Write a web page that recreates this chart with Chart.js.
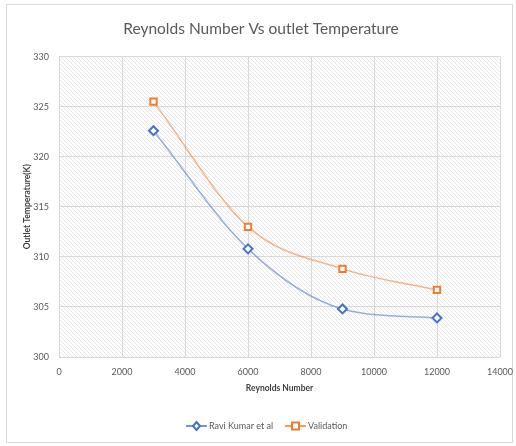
<!DOCTYPE html>
<html>
<head>
<meta charset="utf-8">
<script src="https://cdn.jsdelivr.net/npm/chart.js@4.4.0/dist/chart.umd.min.js"></script>
<style>
  html, body { margin: 0; padding: 0; background: #fff; }
  #wrap { width: 516px; height: 446px; position: relative; }
</style>
</head>
<body>
<div id="wrap"><canvas id="grafico"></canvas></div>
<script>
var reynolds = [3000, 6000, 9000, 12000];
var raviKumar = [322.6, 310.8, 304.8, 303.9];
var validacion = [325.5, 313.0, 308.8, 306.7];
var seriesNames = ["Ravi Kumar et al", "Validation"];

var azul = "#4472C4";
var naranja = "#ED7D31";
var gris = "#595959";
var fuente = "Lato, 'Open Sans', sans-serif";

// Patron rayado del area de trazado
function crearRayado() {
    var c = document.createElement("canvas");
    c.width = 4; c.height = 4;
    var g = c.getContext("2d");
    g.fillStyle = "#ffffff";
    g.fillRect(0, 0, 4, 4);
    g.strokeStyle = "#e6e6e6";
    g.lineWidth = 1;
    g.beginPath();
    g.moveTo(0, 0); g.lineTo(4, 4);
    g.moveTo(-1, 3); g.lineTo(1, 5);
    g.moveTo(3, -1); g.lineTo(5, 1);
    g.stroke();
    return c;
}

var fondoPlugin = {
    id: "fondo",
    beforeDraw: function (chart) {
        var ctx = chart.ctx;
        var a = chart.chartArea;
        ctx.save();
        ctx.fillStyle = "#fff";
        ctx.fillRect(0, 0, chart.width, chart.height);
        ctx.strokeStyle = "#d9d9d9";
        ctx.lineWidth = 1;
        ctx.strokeRect(6.5, 4.5, 506, 438);
        ctx.fillStyle = ctx.createPattern(crearRayado(), "repeat");
        ctx.fillRect(a.left, a.top, a.right - a.left, a.bottom - a.top);
        ctx.restore();
    },
    afterDraw: function (chart) {
        // Leyenda estilo Excel: linea + marcador
        var ctx = chart.ctx;
        var y = 426;
        var items = [
            { x: 186, color: azul, estilo: "diamond", texto: seriesNames[0] },
            { x: 285, color: naranja, estilo: "square", texto: seriesNames[1] }
        ];
        ctx.save();
        items.forEach(function (it) {
            ctx.strokeStyle = it.color;
            ctx.lineWidth = 1.5;
            ctx.beginPath();
            ctx.moveTo(it.x, y); ctx.lineTo(it.x + 21, y);
            ctx.stroke();
            ctx.fillStyle = "#fff";
            ctx.lineWidth = 2;
            ctx.beginPath();
            var cx = it.x + 10.5;
            if (it.estilo === "diamond") {
                ctx.moveTo(cx, y - 4); ctx.lineTo(cx + 3.5, y); ctx.lineTo(cx, y + 4); ctx.lineTo(cx - 3.5, y);
                ctx.closePath();
            } else {
                ctx.rect(cx - 3.5, y - 3.5, 7, 7);
            }
            ctx.fill(); ctx.stroke();
            ctx.fillStyle = gris;
            ctx.font = "9px " + fuente;
            ctx.textBaseline = "middle";
            ctx.fillText(it.texto, it.x + 23, y);
        });
        ctx.restore();
    }
};

var ctx = document.getElementById("grafico").getContext("2d");
var myChart = new Chart(ctx, {
    type: "line",
    data: {
        datasets: [{
            label: seriesNames[0],
            data: reynolds.map(function (x, i) { return { x: x, y: raviKumar[i] }; }),
            borderColor: "rgba(68,114,196,0.55)",
            borderWidth: 1.5,
            pointStyle: "rectRot",
            pointRadius: 4.5,
            pointBorderWidth: 2,
            pointBorderColor: azul,
            pointBackgroundColor: "#fff",
            cubicInterpolationMode: "monotone"
        }, {
            label: seriesNames[1],
            data: reynolds.map(function (x, i) { return { x: x, y: validacion[i] }; }),
            borderColor: "rgba(237,125,49,0.55)",
            borderWidth: 1.5,
            pointStyle: "rect",
            pointRadius: 4.5,
            pointBorderWidth: 2,
            pointBorderColor: naranja,
            pointBackgroundColor: "#fff",
            cubicInterpolationMode: "monotone"
        }]
    },
    options: {
        responsive: true,
        maintainAspectRatio: false,
        animation: false,
        layout: { padding: { left: 22, right: 16, top: 10, bottom: 53 } },
        plugins: {
            legend: { display: false },
            tooltip: { enabled: false },
            title: {
                display: true,
                text: "Reynolds Number Vs outlet Temperature",
                color: gris,
                font: { family: fuente, size: 15.5, weight: "normal" },
                padding: { top: 10, bottom: 18 }
            }
        },
        scales: {
            x: {
                type: "linear",
                min: 0, max: 14000,
                ticks: {
                    stepSize: 2000, color: gris, font: { family: fuente, size: 9 }, padding: 10, maxRotation: 0,
                    callback: function (v) { return String(v); }
                },
                grid: { color: "#d9d9d9", drawTicks: false, tickLength: 0 },
                border: { display: false },
                title: { display: true, text: "Reynolds Number", color: "#404040", font: { family: fuente, size: 8.5, weight: "bold" }, padding: { top: 3, bottom: 0 } },
                afterFit: function (s) {
                    s.height = 36;
                    s.paddingLeft = 0;
                    s.paddingRight = 0;
                }
            },
            y: {
                min: 300, max: 330,
                ticks: { stepSize: 5, color: gris, font: { family: fuente, size: 9 }, padding: 10 },
                grid: { color: "#d9d9d9", drawTicks: false, tickLength: 0 },
                border: { display: false },
                title: { display: true, text: "Outlet Temperature(K)", color: "#404040", font: { family: fuente, size: 8.5, weight: "bold" }, padding: { top: 0, bottom: 2 } },
                afterFit: function (s) {
                    s.width = 37;
                }
            }
        }
    },
    plugins: [fondoPlugin]
});
</script>
</body>
</html>
